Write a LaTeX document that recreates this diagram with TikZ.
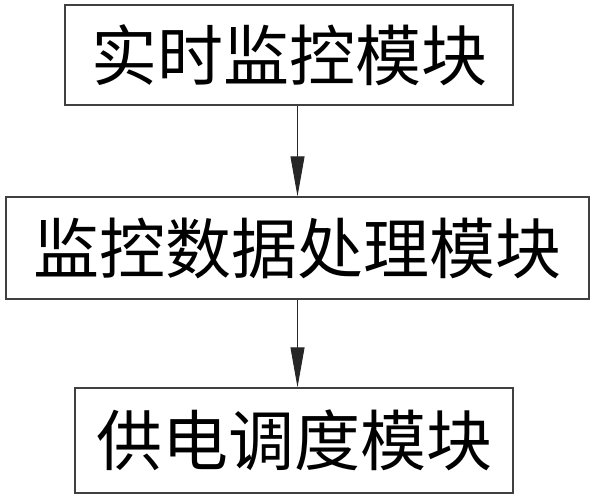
\documentclass[tikz,border=0pt]{standalone}
\usepackage{fontspec}
\newfontfamily\cjk{Noto Sans CJK SC}
\usetikzlibrary{arrows.meta}
\begin{document}
\begin{tikzpicture}[x=1pt,y=-1pt,
  box/.style={draw=black!75,line width=1.4pt,inner sep=0pt,
    font=\cjk\fontsize{66}{68}\selectfont},
  arr/.style={draw=black!85,line width=0.9pt,-{Triangle[length=40pt,width=14pt]}}]
\useasboundingbox (0,0) rectangle (596,500);
\node[box,minimum width=448pt,minimum height=100pt] (b1) at (289,55) {实时监控模块};
\node[box,minimum width=583pt,minimum height=102pt] (b2) at (297.5,248) {监控数据处理模块};
\node[box,minimum width=438pt,minimum height=105pt] (b3) at (294,440.5) {供电调度模块};
\draw[arr] (b1.south -| b2.north) -- (b2.north);
\draw[arr] (b2.south) -- (b3.north -| b2.south);
\end{tikzpicture}
\end{document}
